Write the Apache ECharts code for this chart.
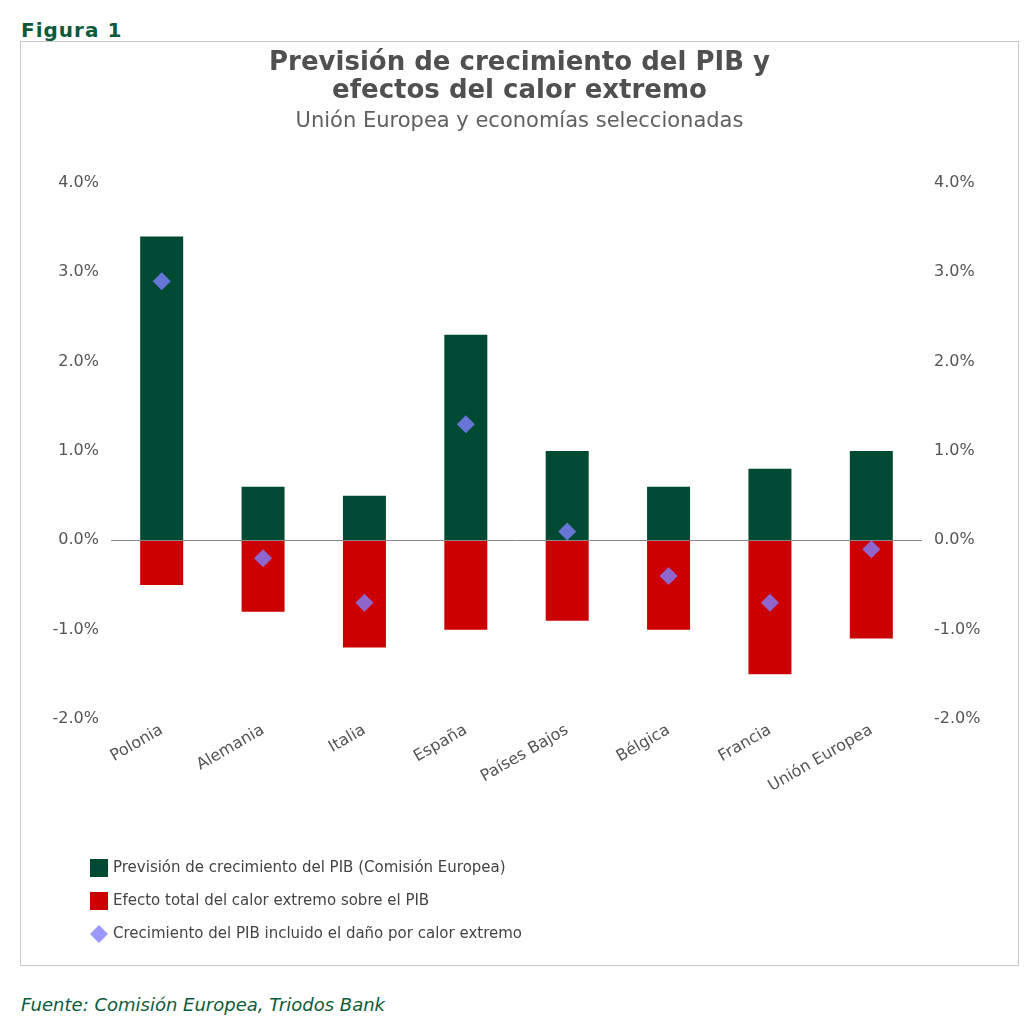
<!DOCTYPE html>
<html><head><meta charset="utf-8">
<script src="https://cdn.jsdelivr.net/npm/echarts@6/dist/echarts.min.js"></script>
<style>
body{margin:0;background:#fff;font-family:"DejaVu Sans",sans-serif}
#head{position:absolute;left:21px;top:18px;font-weight:bold;color:#0b5a3a;font-size:20px;letter-spacing:1px}
#box{position:absolute;left:20px;top:41px;width:997px;height:923px;border:1px solid #c8c8c8}
#chart{width:997px;height:923px}
#foot{position:absolute;left:21px;top:994px;font-style:italic;color:#0b5a3a;font-size:18px}
</style></head><body>
<div id="head">Figura 1</div>
<div id="box"><div id="chart"></div></div>
<div id="foot">Fuente: Comisión Europea, Triodos Bank</div>
<script>
const categories = ['Polonia','Alemania','Italia','España','Países Bajos','Bélgica','Francia','Unión Europea'];
const forecast = [3.4, 0.6, 0.5, 2.3, 1.0, 0.6, 0.8, 1.0];
const heatEffect = [-0.5, -0.8, -1.2, -1.0, -0.9, -1.0, -1.5, -1.1];
const adjusted = [2.9, -0.2, -0.7, 1.3, 0.1, -0.4, -0.7, -0.1];

const chart = echarts.init(document.getElementById('chart'));
const pct = v => v.toFixed(1) + '%';
const yAxisBase = {
  type: 'value', min: -2, max: 4, interval: 1,
  axisLabel: { formatter: pct, color: '#555', fontSize: 16, fontFamily: 'DejaVu Sans', margin: 12 },
  splitLine: { show: false }, axisLine: { show: false }, axisTick: { show: false }
};
chart.setOption({
  animation: false,
  title: {
    text: 'Previsión de crecimiento del PIB y\nefectos del calor extremo',
    subtext: 'Unión Europea y economías seleccionadas',
    left: 'center', top: 2, itemGap: 6,
    textStyle: { fontSize: 26, fontWeight: 'bold', color: '#505050', lineHeight: 28, fontFamily: 'DejaVu Sans' },
    subtextStyle: { fontSize: 21, color: '#606060', fontFamily: 'DejaVu Sans' }
  },
  grid: { left: 90, right: 96, top: 141, height: 536 },
  legend: {
    orient: 'vertical', left: 64, top: 812, itemGap: 15, itemWidth: 18, itemHeight: 18,
    textStyle: { fontSize: 15, color: '#444', fontFamily: 'DejaVu Sans' },
    data: [
      { name: 'Previsión de crecimiento del PIB (Comisión Europea)', icon: 'rect' },
      { name: 'Efecto total del calor extremo sobre el PIB', icon: 'rect' },
      { name: 'Crecimiento del PIB incluido el daño por calor extremo', icon: 'diamond' }
    ]
  },
  xAxis: {
    type: 'category', data: categories,
    axisLine: { onZero: false, show: false }, axisTick: { show: false },
    axisLabel: { rotate: 30, color: '#555', fontSize: 16, fontFamily: 'DejaVu Sans', margin: 10, interval: 0 }
  },
  yAxis: [yAxisBase, Object.assign({}, yAxisBase, { position: 'right' })],
  series: [
    { name: 'Previsión de crecimiento del PIB (Comisión Europea)', type: 'bar', stack: 'a',
      data: forecast, barWidth: 43, itemStyle: { color: '#004a33' },
      markLine: { silent: true, symbol: 'none', label: { show: false },
        lineStyle: { color: '#888', type: 'solid', width: 1 }, data: [{ yAxis: 0 }] } },
    { name: 'Efecto total del calor extremo sobre el PIB', type: 'bar', stack: 'a',
      data: heatEffect, barWidth: 43, itemStyle: { color: '#cc0000' } },
    { name: 'Crecimiento del PIB incluido el daño por calor extremo', type: 'scatter',
      data: adjusted, symbol: 'diamond', symbolSize: 18, itemStyle: { color: '#8080ff' }, z: 5 }
  ]
});
</script></body></html>
